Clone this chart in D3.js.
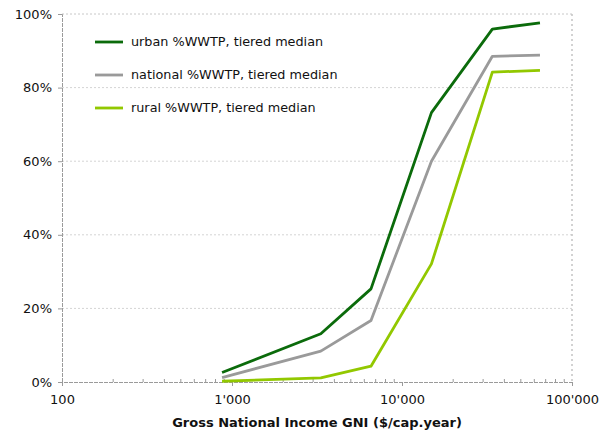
<!DOCTYPE html>
<html>
<head>
<meta charset="utf-8">
<script src="https://cdn.jsdelivr.net/npm/d3@7"></script>
<style>
  html, body { margin: 0; padding: 0; background: #fff; }
  svg { display: block; font-family: "DejaVu Sans", Verdana, sans-serif; }
</style>
</head>
<body>
<svg id="chart" width="607" height="433"></svg>
<script>
// GNI tiers ($/cap.year) and share of wastewater treated per tier (%)
const gni = [874, 3330, 6570, 14900, 34000, 64800];
const urban = [2.6, 13.1, 25.3, 73.2, 95.9, 97.6];
const national = [1.2, 8.4, 16.7, 60.0, 88.5, 88.8];
const rural = [0.2, 1.1, 4.3, 32.1, 84.2, 84.7];

const seriesNames = ["urban %WWTP, tiered median", "national %WWTP, tiered median", "rural %WWTP, tiered median"];
const seriesColors = ["#0b6b0b", "#9a9a9a", "#92c800"];

const xTicks = [100, 1000, 10000, 100000];
const xTickLabels = ["100", "1'000", "10'000", "100'000"];
const yTicks = [0, 20, 40, 60, 80, 100];
const xTitle = "Gross National Income GNI ($/cap.year)";

const svg = d3.select("#chart");
const m = { left: 62, right: 35, top: 14, bottom: 51 };
const W = 607, H = 433;

const x = d3.scaleLog().domain([100, 100000]).range([m.left, W - m.right]);
const y = d3.scaleLinear().domain([0, 100]).range([H - m.bottom, m.top]);

// horizontal grid
svg.append("g").selectAll("line")
  .data(yTicks.filter(v => v > 0 && v < 100))
  .join("line")
  .attr("x1", x(100)).attr("x2", x(100000))
  .attr("y1", d => y(d)).attr("y2", d => y(d))
  .attr("stroke", "#d4d4d4").attr("stroke-dasharray", "2,2");

// frame: top and right edges
svg.append("line")
  .attr("x1", x(100)).attr("x2", x(100000))
  .attr("y1", y(100)).attr("y2", y(100))
  .attr("stroke", "#c8c8c8").attr("stroke-dasharray", "2,2");
svg.append("line")
  .attr("x1", x(100000)).attr("x2", x(100000))
  .attr("y1", y(100)).attr("y2", y(0))
  .attr("stroke", "#c4c4c4").attr("stroke-width", 1.5).attr("stroke-dasharray", "2,3");

// y axis
const yAxis = d3.axisLeft(y).tickValues(yTicks).tickFormat(d => d + "%").tickSize(4).tickPadding(6);
const gy = svg.append("g").attr("transform", `translate(${x(100)},0)`).call(yAxis);
gy.select(".domain").attr("stroke", "#9a9a9a").attr("stroke-dasharray", "4,1");
gy.selectAll(".tick line").attr("stroke", "#9a9a9a");
gy.selectAll("text").attr("font-size", 13).attr("fill", "#111")
  .attr("font-family", "DejaVu Sans, Verdana, sans-serif");

// x axis: minor ticks pointing inward
const minor = [];
for (let dec = 100; dec < 100000; dec *= 10) {
  for (let k = 2; k <= 9; k++) minor.push(dec * k);
}
svg.append("g").selectAll("line").data(minor).join("line")
  .attr("x1", d => x(d)).attr("x2", d => x(d))
  .attr("y1", y(0)).attr("y2", y(0) - 3)
  .attr("stroke", "#9a9a9a");

const xAxis = d3.axisBottom(x).tickValues(xTicks)
  .tickFormat((d, i) => xTickLabels[i]).tickSize(4).tickPadding(9);
const gx = svg.append("g").attr("transform", `translate(0,${y(0)})`).call(xAxis);
gx.select(".domain").attr("stroke", "#9a9a9a").attr("stroke-dasharray", "4,1");
gx.selectAll(".tick line").attr("stroke", "#9a9a9a");
gx.selectAll("text").attr("font-size", 13).attr("fill", "#111")
  .attr("font-family", "DejaVu Sans, Verdana, sans-serif");

// x axis title
svg.append("text")
  .attr("x", (x(100) + x(100000)) / 2)
  .attr("y", 427)
  .attr("text-anchor", "middle")
  .attr("font-size", 13).attr("font-weight", "bold").attr("fill", "#111")
  .text(xTitle);

// series lines
const seriesValues = [urban, national, rural];
const line = d3.line().x((d, i) => x(gni[i])).y(d => y(d));
svg.append("g").selectAll("path")
  .data([2, 1, 0])
  .join("path")
  .attr("d", k => line(seriesValues[k]))
  .attr("fill", "none")
  .attr("stroke", k => seriesColors[k])
  .attr("stroke-width", 2.8)
  .attr("stroke-linejoin", "round");

// legend
const lg = svg.append("g");
seriesNames.forEach((name, i) => {
  const ly = 42 + i * 33;
  lg.append("line")
    .attr("x1", 95).attr("x2", 123)
    .attr("y1", ly).attr("y2", ly)
    .attr("stroke", seriesColors[i]).attr("stroke-width", 2.8);
  lg.append("text")
    .attr("x", 131).attr("y", ly)
    .attr("dy", "0.35em")
    .attr("font-size", 12.8).attr("fill", "#111")
    .text(name);
});
</script>
</body>
</html>
